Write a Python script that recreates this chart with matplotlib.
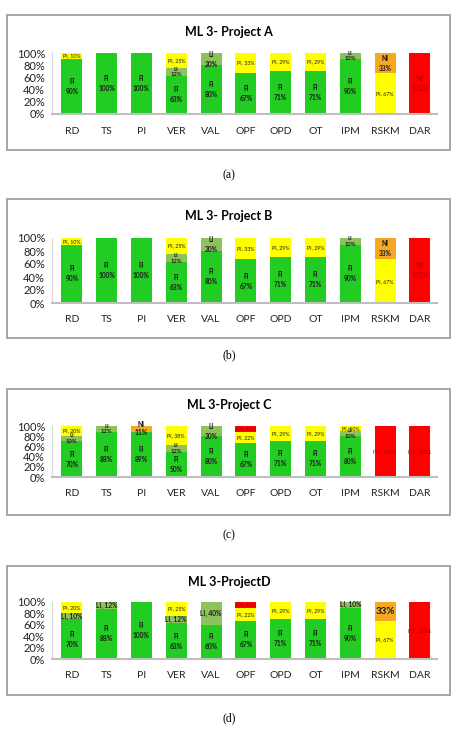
import matplotlib
matplotlib.use('Agg')
import matplotlib.pyplot as plt
from matplotlib.patches import Rectangle

categories = ['RD', 'TS', 'PI', 'VER', 'VAL', 'OPF', 'OPD', 'OT', 'IPM', 'RSKM', 'DAR']
levels = ['FI', 'LI', 'PI', 'NI', 'NY']
level_colors = ['#22CC22', '#8DC35C', '#FFFF00', '#F7A823', '#FF0000']
yticks = [0, 20, 40, 60, 80, 100]

# project A
a_fi = [90, 100, 100, 63, 80, 67, 71, 71, 90, 0, 0]
a_li = [0, 0, 0, 12, 20, 0, 0, 0, 10, 0, 0]
a_pi = [10, 0, 0, 25, 0, 33, 29, 29, 0, 67, 0]
a_ni = [0, 0, 0, 0, 0, 0, 0, 0, 0, 33, 0]
a_ny = [0, 0, 0, 0, 0, 0, 0, 0, 0, 0, 100]

# project B
b_fi = [90, 100, 100, 63, 80, 67, 71, 71, 90, 0, 0]
b_li = [0, 0, 0, 12, 20, 0, 0, 0, 10, 0, 0]
b_pi = [10, 0, 0, 25, 0, 33, 29, 29, 0, 67, 0]
b_ni = [0, 0, 0, 0, 0, 0, 0, 0, 0, 33, 0]
b_ny = [0, 0, 0, 0, 0, 0, 0, 0, 0, 0, 100]

# project C
c_fi = [70, 88, 89, 50, 80, 67, 71, 71, 80, 0, 0]
c_li = [10, 12, 0, 12, 20, 0, 0, 0, 10, 0, 0]
c_pi = [20, 0, 0, 38, 0, 22, 29, 29, 10, 0, 0]
c_ni = [0, 0, 11, 0, 0, 0, 0, 0, 0, 0, 0]
c_ny = [0, 0, 0, 0, 0, 11, 0, 0, 0, 100, 100]

# project D
d_fi = [70, 88, 100, 63, 60, 67, 71, 71, 90, 0, 0]
d_li = [10, 12, 0, 12, 40, 0, 0, 0, 10, 0, 0]
d_pi = [20, 0, 0, 25, 0, 22, 29, 29, 0, 67, 0]
d_ni = [0, 0, 0, 0, 0, 0, 0, 0, 0, 33, 0]
d_ny = [0, 0, 0, 0, 0, 11, 0, 0, 0, 0, 100]

# label formats for each level, per project
fmt_ab = {'FI': '{k}\n{v}%', 'LI': '{k}\n{v}%', 'PI': '{k}, {v}%', 'NI': '{k}\n{v}%', 'NY': '{k}\n{v}%'}
fmt_c = {'FI': '{k}\n{v}%', 'LI': '{k}\n{v}%', 'PI': '{k}, {v}%', 'NI': '{k}\n{v}%', 'NY': '{k}, {v}%'}
fmt_d = {'FI': '{k}\n{v}%', 'LI': '{k}, {v}%', 'PI': '{k}, {v}%', 'NI': '{v}%', 'NY': '{k}, {v}%'}

W, H = 458, 730
fig = plt.figure(figsize=(W / 100, H / 100), dpi=100)


def fx(px):
    return px / W


def fy(py):
    return 1 - py / H


def draw_panel(series, fmt, title, caption, box_top, box_bot, title_y, ax_top, ax_bot, cap_y):
    fig.patches.append(Rectangle((fx(7), fy(box_bot)), fx(450) - fx(7), (box_bot - box_top) / H,
                                 transform=fig.transFigure, fill=False, ec='#A6A6A6', lw=1.4))
    fig.text(fx(229), fy(title_y), title, ha='center', va='center', fontsize=9,
             fontweight='bold', family='Lato')
    fig.text(fx(229), fy(cap_y), caption, ha='center', va='center', fontsize=8.5,
             family='Liberation Serif')

    ax = fig.add_axes([fx(52), fy(ax_bot), fx(437) - fx(52), (ax_bot - ax_top) / H])
    x = list(range(len(categories)))
    bottom = [0] * len(categories)
    for lev, col, vals in zip(levels, level_colors, series):
        ax.bar(x, vals, 0.6, bottom=bottom, color=col, lw=0)
        for i, v in enumerate(vals):
            if v <= 0:
                continue
            txt = fmt[lev].format(k=lev, v=v)
            big = lev == 'NI' and fmt[lev] == '{v}%'
            tcol = '#B00000' if lev == 'NY' else '#1a1a1a'
            bold = lev in ('FI', 'LI', 'NI') or big
            if big:
                size = 7
            elif lev in ('PI', 'NY') and ',' in txt:
                size = 3.8
            elif lev == 'LI' and v <= 12 and '\n' in txt:
                size = 4.2
            else:
                size = 4.8
            ax.text(i, bottom[i] + v / 2, txt, ha='center', va='center', fontsize=size,
                    color=tcol, fontweight='bold' if bold else 'normal',
                    linespacing=1.5 if v > 15 else 1.2, family='Lato')
        bottom = [b + v for b, v in zip(bottom, vals)]

    ax.set_xlim(-0.57, 10.49)
    ax.set_ylim(0, 100)
    ax.set_yticks(yticks)
    ax.set_yticklabels([f'{t}%' for t in yticks], fontsize=8, family='Lato', color='#222222')
    ax.set_xticks(x)
    ax.set_xticklabels(categories, fontsize=7.5, family='Lato', color='#222222')
    ax.tick_params(length=0)
    ax.tick_params(axis='x', pad=9)
    ax.tick_params(axis='y', pad=5)
    for s in ['top', 'right']:
        ax.spines[s].set_visible(False)
    ax.spines['left'].set_color('#D9D9D9')
    ax.spines['left'].set_linewidth(0.8)
    ax.spines['bottom'].set_color('#BFBFBF')
    ax.spines['bottom'].set_linewidth(1.5)
    ax.set_facecolor('none')
    return ax


draw_panel([a_fi, a_li, a_pi, a_ni, a_ny], fmt_ab, 'ML 3- Project A', '(a)', 15, 150, 32, 53, 114, 175)
draw_panel([b_fi, b_li, b_pi, b_ni, b_ny], fmt_ab, 'ML 3- Project B', '(b)', 199, 338, 216, 238, 303, 355)
draw_panel([c_fi, c_li, c_pi, c_ni, c_ny], fmt_c, 'ML 3-Project C', '(c)', 389, 515, 405, 426, 477, 535)
draw_panel([d_fi, d_li, d_pi, d_ni, d_ny], fmt_d, 'ML 3-ProjectD', '(d)', 566, 695, 582, 602, 659, 718)

fig.savefig('out.png', dpi=100, facecolor='white')
